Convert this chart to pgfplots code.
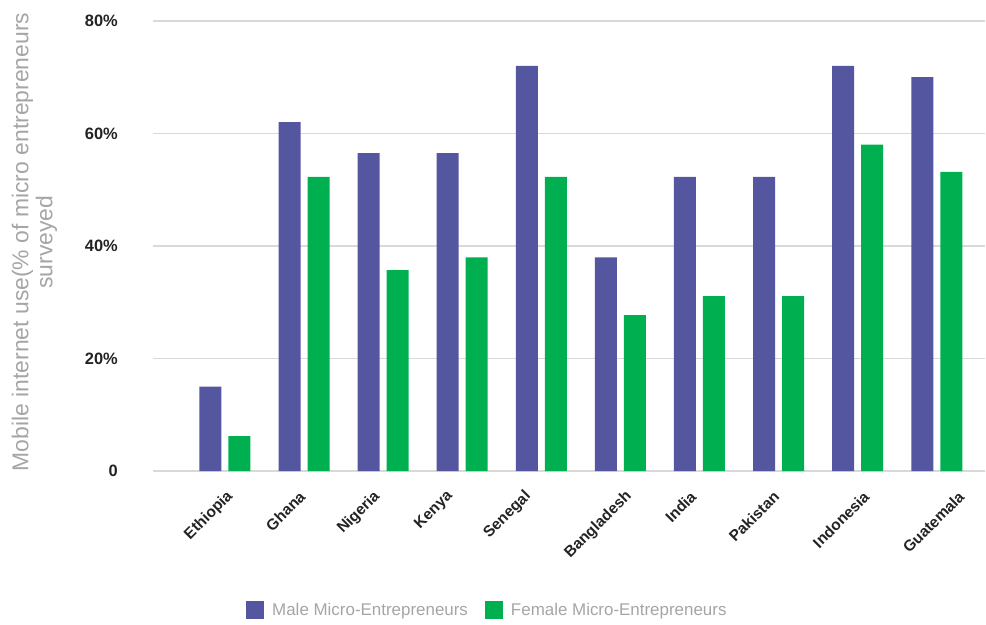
\documentclass[border=0pt]{standalone}
\usepackage{fontspec}
\setmainfont{Liberation Sans}
\usepackage{pgfplots}
\pgfplotsset{compat=1.18}
\definecolor{male}{RGB}{84,86,160}
\definecolor{female}{RGB}{0,176,80}
\definecolor{gridc}{RGB}{217,217,217}
\definecolor{tickc}{RGB}{35,35,35}
\definecolor{labc}{RGB}{165,165,165}
\begin{document}
\begin{tikzpicture}
\path[use as bounding box] (-153bp,-154bp) rectangle (833bp,471bp);
\begin{axis}[
  at={(0,0)}, anchor=south west,
  scale only axis, width=832bp, height=450bp,
  xmin=-0.91, xmax=9.61, ymin=0, ymax=80,
  axis line style={draw=none},
  tick style={draw=none},
  major tick length=0pt,
  ytick={0,20,40,60,80},
  yticklabels={0,20\%,40\%,60\%,80\%},
  ymajorgrids, grid style={draw=gridc, line width=1.2bp},
  xtick={0.127,1.037,1.986,2.909,3.895,5.172,5.981,7.031,8.169,9.370},
  xticklabels={Ethiopia,Ghana,Nigeria,Kenya,Senegal,Bangladesh,India,Pakistan,Indonesia,Guatemala},
  yticklabel style={font=\bfseries\fontsize{16.5}{16.5}\selectfont, text=tickc, anchor=east, inner sep=0pt, xshift=-35bp},
  xticklabel style={font=\bfseries\fontsize{15.5}{15.5}\selectfont, text=tickc, inner sep=0pt, xshift=-4.5bp, yshift=-23bp, rotate=45, anchor=east},
  ybar, bar width=22bp,
  legend columns=2,
  legend style={draw=none, fill=none, at={(axis description cs:0.1118,-0.309)}, anchor=west,
    font=\fontsize{17}{17}\selectfont, text=labc, inner sep=0pt,
    /tikz/every even column/.append style={column sep=14bp},
    nodes={inner sep=3bp}},
]
\addplot[fill=male, draw=none, bar shift=-14.5bp,
  legend image code/.code={\fill[male] (0bp,-9bp) rectangle (18bp,9bp); \path (23bp,0bp);}]
  coordinates {(0,15) (1,62) (2,56.5) (3,56.5) (4,72) (5,38) (6,52.3) (7,52.3) (8,72) (9,70)};
\addlegendentry{Male Micro-Entrepreneurs}
\addplot[fill=female, draw=none, bar shift=14.5bp,
  legend image code/.code={\fill[female] (0bp,-9bp) rectangle (18bp,9bp); \path (23bp,0bp);}]
  coordinates {(0,6.2) (1,52.3) (2,35.7) (3,38) (4,52.3) (5,27.7) (6,31.1) (7,31.1) (8,58) (9,53.2)};
\addlegendentry{Female Micro-Entrepreneurs}
\end{axis}
\node[rotate=90, align=center, text=labc, font=\fontsize{23}{24}\selectfont] at (-118.5bp,229bp) {Mobile internet use(\% of micro entrepreneurs\\surveyed};
\end{tikzpicture}
\end{document}
